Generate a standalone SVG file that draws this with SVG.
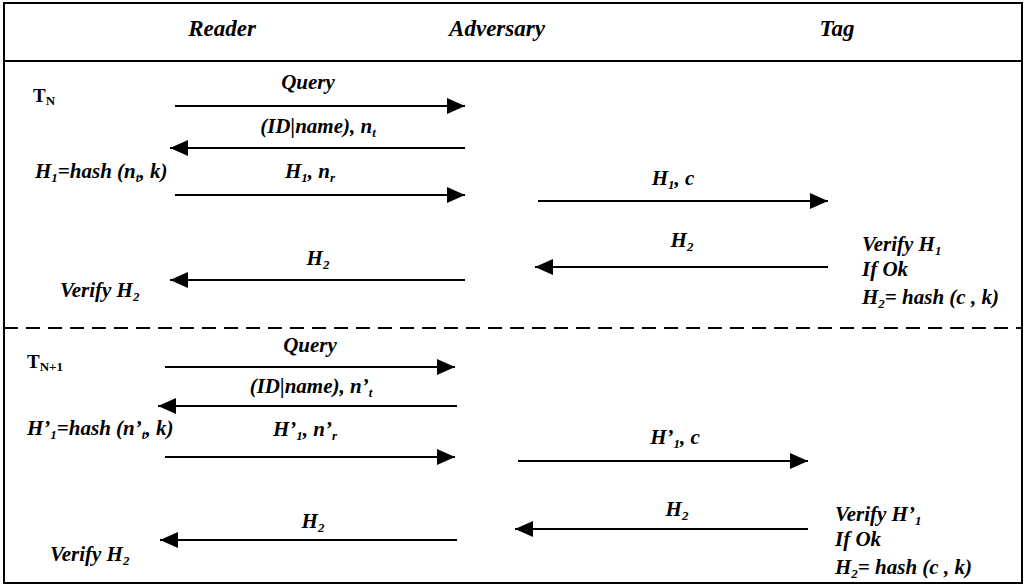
<svg xmlns="http://www.w3.org/2000/svg" width="1026" height="587" viewBox="0 0 1026 587">
<style>
.t{font-weight:bold;font-style:italic;font-size:21px}
.h{font-weight:bold;font-style:italic;font-size:23px}
.r{font-weight:bold;font-size:19px}
.s{font-size:13px}
.m{text-anchor:middle}
.a{stroke:#000;stroke-width:2;fill:none;marker-end:url(#ah)}
</style>
<defs>
<marker id="ah" markerUnits="userSpaceOnUse" markerWidth="20" markerHeight="16" refX="18" refY="8" orient="auto">
<path d="M0,0 L18,8 L0,16 Z" fill="#000"/>
</marker>
</defs>
<rect x="4" y="3" width="1018" height="580" fill="#fff" stroke="#000" stroke-width="2"/>
<line x1="4" y1="61" x2="1022" y2="61" stroke="#000" stroke-width="2"/>
<line x1="4" y1="328" x2="1022" y2="328" stroke="#000" stroke-width="2" stroke-dasharray="14,8"/>
<g id="header" font-family="Liberation Serif, Times New Roman, serif" fill="#000">
<text class="h m" x="222" y="36">Reader</text>
<text class="h m" x="497" y="36">Adversary</text>
<text class="h m" x="837" y="36">Tag</text>
</g>
<g id="connectors">
<line class="a" x1="175" y1="106" x2="465" y2="106"/>
<line class="a" x1="465" y1="148" x2="170" y2="148"/>
<line class="a" x1="175" y1="195" x2="465" y2="195"/>
<line class="a" x1="538" y1="201" x2="828" y2="201"/>
<line class="a" x1="828" y1="267" x2="535" y2="267"/>
<line class="a" x1="465" y1="280" x2="170" y2="280"/>
<line class="a" x1="165" y1="367" x2="455" y2="367"/>
<line class="a" x1="457" y1="406" x2="158" y2="406"/>
<line class="a" x1="165" y1="457" x2="455" y2="457"/>
<line class="a" x1="518" y1="461" x2="808" y2="461"/>
<line class="a" x1="808" y1="529" x2="515" y2="529"/>
<line class="a" x1="457" y1="540" x2="160" y2="540"/>
</g>
<g id="session1" font-family="Liberation Serif, Times New Roman, serif" fill="#000">
<text class="r" x="33" y="102">T<tspan class="s" dy="3">N</tspan></text>
<text class="t m" x="308" y="89">Query</text>
<text class="t m" x="318" y="133">(ID|name), n<tspan class="s" dy="4">t</tspan></text>
<text class="t" x="35" y="178">H<tspan class="s" dy="4">1</tspan><tspan dy="-4">=hash (n</tspan><tspan class="s" dy="4">t</tspan><tspan dy="-4">, k)</tspan></text>
<text class="t m" x="310" y="178">H<tspan class="s" dy="4">1</tspan><tspan dy="-4">, n</tspan><tspan class="s" dy="4">r</tspan></text>
<text class="t m" x="673" y="185">H<tspan class="s" dy="4">1</tspan><tspan dy="-4">, c</tspan></text>
<text class="t m" x="682" y="247">H<tspan class="s" dy="4">2</tspan></text>
<text class="t m" x="318" y="265">H<tspan class="s" dy="4">2</tspan></text>
<text class="t" x="862" y="251">Verify H<tspan class="s" dy="4">1</tspan></text>
<text class="t" x="862" y="276">If Ok</text>
<text class="t" x="862" y="304">H<tspan class="s" dy="4">2</tspan><tspan dy="-4">= hash (c , k)</tspan></text>
<text class="t" x="60" y="297">Verify H<tspan class="s" dy="4">2</tspan></text>
</g>
<g id="session2" font-family="Liberation Serif, Times New Roman, serif" fill="#000">
<text class="r" x="27" y="368">T<tspan class="s" dy="3">N+1</tspan></text>
<text class="t m" x="310" y="352">Query</text>
<text class="t m" x="311" y="393">(ID|name), n’<tspan class="s" dy="4">t</tspan></text>
<text class="t" x="27" y="435">H’<tspan class="s" dy="4">1</tspan><tspan dy="-4">=hash (n’</tspan><tspan class="s" dy="4">t</tspan><tspan dy="-4">, k)</tspan></text>
<text class="t m" x="305" y="436">H’<tspan class="s" dy="4">1</tspan><tspan dy="-4">, n’</tspan><tspan class="s" dy="4">r</tspan></text>
<text class="t m" x="675" y="444">H’<tspan class="s" dy="4">1</tspan><tspan dy="-4">, c</tspan></text>
<text class="t m" x="677" y="516">H<tspan class="s" dy="4">2</tspan></text>
<text class="t m" x="313" y="528">H<tspan class="s" dy="4">2</tspan></text>
<text class="t" x="835" y="521">Verify H’<tspan class="s" dy="4">1</tspan></text>
<text class="t" x="835" y="546">If Ok</text>
<text class="t" x="835" y="574">H<tspan class="s" dy="4">2</tspan><tspan dy="-4">= hash (c , k)</tspan></text>
<text class="t" x="50" y="561">Verify H<tspan class="s" dy="4">2</tspan></text>
</g>
</svg>
